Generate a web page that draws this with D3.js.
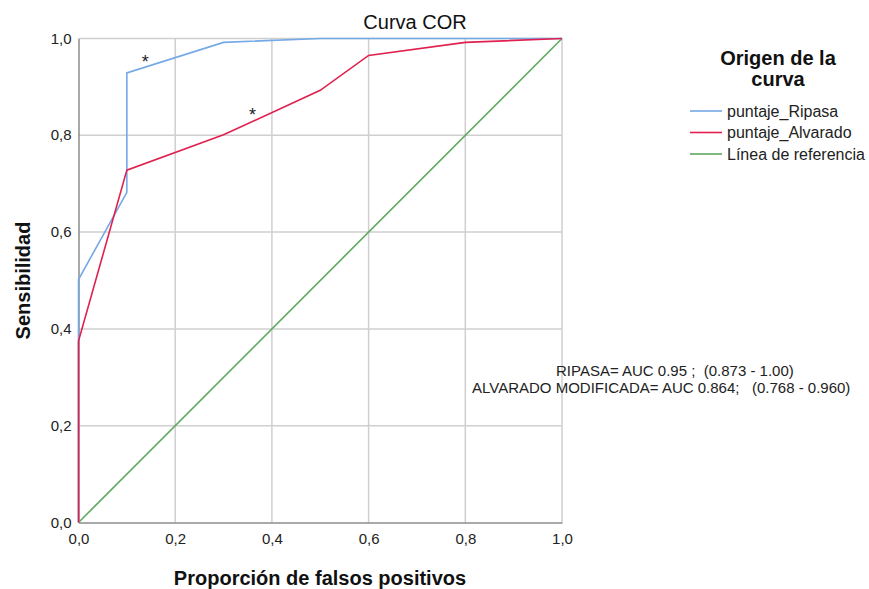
<!DOCTYPE html>
<html>
<head>
<meta charset="utf-8">
<script src="https://cdn.jsdelivr.net/npm/d3@7"></script>
<style>
  body { margin: 0; background: #fff; }
  text { font-family: "Liberation Sans", Arial, sans-serif; white-space: pre; }
</style>
</head>
<body>
<svg id="chart"></svg>
<script>
// ROC data
var ripasaFpr = [0, 0, 0.1, 0.1, 0.3, 0.5, 1.0];
var ripasaTpr = [0, 0.502, 0.682, 0.929, 0.992, 1.0, 1.0];
var alvaradoFpr = [0, 0, 0.1, 0.3, 0.5, 0.6, 0.8, 1.0];
var alvaradoTpr = [0, 0.375, 0.728, 0.801, 0.893, 0.965, 0.992, 1.0];
var refFpr = [0, 1];
var refTpr = [0, 1];
var tickValues = [0, 0.2, 0.4, 0.6, 0.8, 1.0];
var seriesNames = ['puntaje_Ripasa', 'puntaje_Alvarado', 'Línea de referencia'];
var seriesColors = ['#74a9e6', '#e0204e', '#5fa85f'];
var aucLines = ['RIPASA= AUC 0.95 ;  (0.873 - 1.00)',
                'ALVARADO MODIFICADA= AUC 0.864;   (0.768 - 0.960)'];

var width = 869;
var height = 589;
var plotLeft = 78.5, plotTop = 38.5, plotW = 483.5, plotH = 484;

var svg = d3.select('#chart')
    .attr('width', width)
    .attr('height', height);

var x = d3.scaleLinear().domain([0, 1]).range([plotLeft, plotLeft + plotW]);
var y = d3.scaleLinear().domain([0, 1]).range([plotTop + plotH, plotTop]);
var fmt = d => d3.format('.1f')(d).replace('.', ',');

// gridlines
svg.append('g')
  .selectAll('line')
  .data(tickValues.slice(1))
  .enter().append('line')
    .attr('x1', d => x(d)).attr('x2', d => x(d))
    .attr('y1', plotTop).attr('y2', plotTop + plotH)
    .attr('stroke', '#cfcfcf').attr('stroke-width', 1.5);
svg.append('g')
  .selectAll('line')
  .data(tickValues.slice(1))
  .enter().append('line')
    .attr('x1', plotLeft).attr('x2', plotLeft + plotW)
    .attr('y1', d => y(d)).attr('y2', d => y(d))
    .attr('stroke', '#cfcfcf').attr('stroke-width', 1.5);

// axes
var xAxis = svg.append('g')
    .attr('transform', 'translate(0,' + (plotTop + plotH) + ')')
    .call(d3.axisBottom(x).tickValues(tickValues).tickFormat(fmt).tickSize(0).tickPadding(9));
var yAxis = svg.append('g')
    .attr('transform', 'translate(' + plotLeft + ',0)')
    .call(d3.axisLeft(y).tickValues(tickValues).tickFormat(fmt).tickSize(0).tickPadding(7));
[xAxis, yAxis].forEach(function(a){
  a.select('.domain').attr('stroke', '#8c8c8c').attr('stroke-width', 1.5);
  a.selectAll('text').attr('font-size', 15).attr('fill', '#222')
    .style('font-family', '"Liberation Sans", Arial, sans-serif');
});
xAxis.selectAll('text').attr('dy', '0.8em');
yAxis.selectAll('text').attr('dy', '0.3em');

// curves
var line = d3.line().x(d => x(d[0])).y(d => y(d[1]));
var series = [
  d3.zip(ripasaFpr, ripasaTpr),
  d3.zip(alvaradoFpr, alvaradoTpr),
  d3.zip(refFpr, refTpr)
];
var drawOrder = [2, 0, 1];
drawOrder.forEach(function(i){
  svg.append('path')
    .datum(series[i])
    .attr('fill', 'none')
    .attr('stroke', seriesColors[i])
    .attr('stroke-width', 1.6)
    .attr('d', line);
});

// asterisks
svg.append('text').attr('x', x(0.138)).attr('y', y(0.94)).attr('text-anchor', 'middle')
  .attr('font-size', 18).attr('fill', '#222').text('*');
svg.append('text').attr('x', x(0.36)).attr('y', y(0.83)).attr('text-anchor', 'middle')
  .attr('font-size', 18).attr('fill', '#222').text('*');

// titles
svg.append('text').attr('x', 415).attr('y', 29).attr('text-anchor', 'middle')
  .attr('font-size', 20).attr('fill', '#111').text('Curva COR');
svg.append('text').attr('x', 320).attr('y', 585).attr('text-anchor', 'middle')
  .attr('font-size', 20).attr('font-weight', 'bold').attr('fill', '#111')
  .text('Proporción de falsos positivos');
svg.append('text')
  .attr('transform', 'translate(30,' + (plotTop + plotH / 2) + ') rotate(-90)')
  .attr('text-anchor', 'middle')
  .attr('font-size', 20).attr('font-weight', 'bold').attr('fill', '#111')
  .text('Sensibilidad');

// AUC annotation
svg.append('text').attr('x', 556).attr('y', 376)
  .attr('font-size', 15).attr('fill', '#222').text(aucLines[0]);
svg.append('text').attr('x', 472).attr('y', 393)
  .attr('font-size', 15).attr('fill', '#222').text(aucLines[1]);

// legend
var legend = svg.append('g');
legend.append('text').attr('x', 778).attr('y', 65).attr('text-anchor', 'middle')
  .attr('font-size', 20).attr('font-weight', 'bold').attr('fill', '#111').text('Origen de la');
legend.append('text').attr('x', 778).attr('y', 86).attr('text-anchor', 'middle')
  .attr('font-size', 20).attr('font-weight', 'bold').attr('fill', '#111').text('curva');
var items = legend.selectAll('g.item')
  .data(seriesNames)
  .enter().append('g')
    .attr('transform', (d, i) => 'translate(0,' + (111 + i * 21.5) + ')');
items.append('line')
  .attr('x1', 690).attr('x2', 722).attr('y1', 0).attr('y2', 0)
  .attr('stroke', (d, i) => seriesColors[i]).attr('stroke-width', 1.6);
items.append('text')
  .attr('x', 727).attr('y', 5.5)
  .attr('font-size', 16).attr('fill', '#222')
  .text(d => d);
</script>
</body>
</html>
